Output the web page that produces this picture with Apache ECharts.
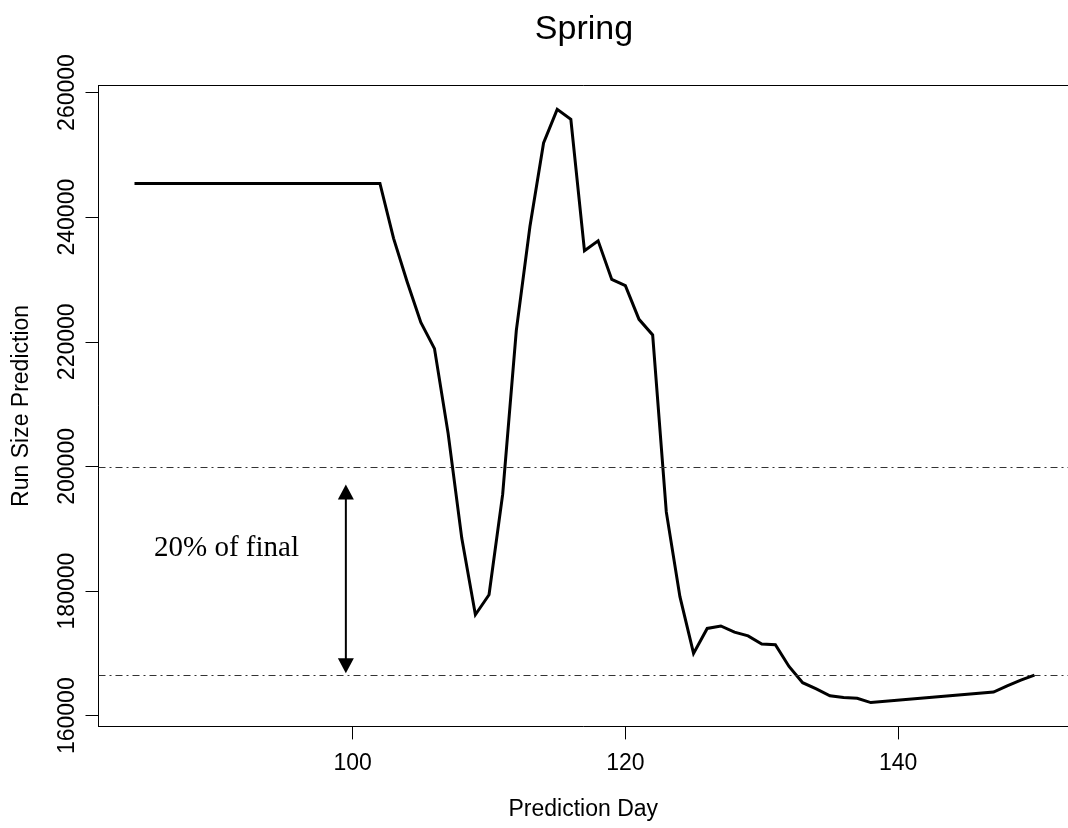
<!DOCTYPE html>
<html>
<head>
<meta charset="utf-8">
<script src="https://cdn.jsdelivr.net/npm/echarts@6/dist/echarts.min.js"></script>
<style>
  html, body { margin: 0; padding: 0; background: #ffffff; overflow: hidden; }
  #chart { width: 1068px; height: 828px; }
</style>
</head>
<body>
<div id="chart"></div>
<script>
// Prediction day and the run size predicted on that day
const days = [
  84, 85, 86, 87, 88, 89, 90, 91, 92, 93, 94, 95, 96, 97, 98, 99, 100, 101, 102,
  103, 104, 105, 106, 107, 108, 109, 110, 111, 112, 113, 114, 115, 116, 117, 118,
  119, 120, 121, 122, 123, 124, 125, 126, 127, 128, 129, 130, 131, 132, 133, 134,
  135, 136, 137, 138, 147, 148, 149, 150
];
const runSize = [
  245400, 245400, 245400, 245400, 245400, 245400, 245400, 245400, 245400, 245400,
  245400, 245400, 245400, 245400, 245400, 245400, 245400, 245400, 245400,
  236600, 229600, 223100, 218900, 205300, 188500, 176200, 179400, 195500, 221800,
  238500, 251900, 257300, 255700, 234600, 236200, 230000, 229000, 223600, 221100,
  192700, 179100, 170000, 174000, 174400, 173400, 172800, 171500, 171400, 167900,
  165300, 164300, 163200, 162900, 162800, 162100, 163800, 164800, 165700, 166500
];

// Axis ticks
const xTicks = [100, 120, 140];
const yTicks = [160000, 180000, 200000, 220000, 240000, 260000];

// Band: final prediction and 20% above it
const finalValue = runSize[runSize.length - 1];
const bandTop = finalValue * 1.2;

// Double-headed arrow marking the band: [day, from, to]
const arrowSpan = [[99.5, 166800, 197100]];

const sans = '"Liberation Sans", Arial, sans-serif';
const serif = '"Liberation Serif", "Times New Roman", serif';

const X_MIN = 81.36, X_MAX = 152.46;

const chart = echarts.init(document.getElementById('chart'), null, { renderer: 'canvas' });

chart.setOption({
  animation: false,
  backgroundColor: '#ffffff',
  title: {
    text: 'Spring',
    left: 579,
    top: 8,
    textAlign: 'center',
    textStyle: { fontFamily: sans, fontSize: 34, fontWeight: 'normal', color: '#000' }
  },
  grid: {
    left: 98.5,
    right: 0,
    top: 85.4,
    bottom: 101.6,
    show: false
  },
  xAxis: [
    {
      type: 'value',
      position: 'bottom',
      min: X_MIN,
      max: X_MAX,
      name: 'Prediction Day',
      nameLocation: 'middle',
      nameGap: 72,
      nameTextStyle: { fontFamily: sans, fontSize: 23, color: '#000' },
      axisLine: { show: true, onZero: false, lineStyle: { color: '#000', width: 1 } },
      axisTick: { show: true, inside: false, length: 13, customValues: xTicks, lineStyle: { color: '#000', width: 1 } },
      axisLabel: {
        customValues: xTicks,
        margin: 26,
        fontFamily: sans,
        fontSize: 23,
        color: '#000',
        formatter: v => String(v)
      },
      splitLine: { show: false }
    },
    {
      // top edge of the plot frame
      type: 'value',
      position: 'top',
      min: X_MIN,
      max: X_MAX,
      axisLine: { show: true, onZero: false, lineStyle: { color: '#000', width: 1 } },
      axisTick: { show: false },
      axisLabel: { show: false },
      splitLine: { show: false }
    }
  ],
  yAxis: {
    type: 'value',
    min: 158280,
    max: 261140,
    name: 'Run Size Prediction',
    nameLocation: 'middle',
    nameGap: 65,
    nameRotate: 90,
    nameTextStyle: { fontFamily: sans, fontSize: 23, color: '#000' },
    axisLine: { show: true, onZero: false, lineStyle: { color: '#000', width: 1 } },
    axisTick: { show: true, inside: false, length: 13, customValues: yTicks, lineStyle: { color: '#000', width: 1 } },
    axisLabel: {
      customValues: yTicks,
      rotate: 90,
      margin: 19,
      fontFamily: sans,
      fontSize: 23,
      color: '#000',
      formatter: v => String(v)
    },
    splitLine: { show: false }
  },
  graphic: [
    {
      type: 'text',
      x: 154,
      y: 548,
      silent: true,
      style: {
        text: '20% of final',
        font: '29px ' + serif,
        fill: '#000',
        verticalAlign: 'middle',
        align: 'left'
      }
    }
  ],
  series: [
    {
      type: 'line',
      xAxisIndex: 0,
      data: days.map((d, i) => [d, runSize[i]]),
      showSymbol: false,
      symbol: 'none',
      lineStyle: { color: '#000', width: 3, join: 'miter' },
      silent: true,
      markLine: {
        silent: true,
        symbol: ['none', 'none'],
        label: { show: false },
        lineStyle: { color: '#333', width: 1, type: [7, 4, 2, 4] },
        data: [{ yAxis: finalValue }, { yAxis: bandTop }]
      }
    },
    {
      type: 'custom',
      xAxisIndex: 0,
      silent: true,
      data: arrowSpan,
      renderItem: function (params, api) {
        const x = api.value(0);
        const lo = api.coord([x, api.value(1)]);
        const hi = api.coord([x, api.value(2)]);
        const headLen = 15;
        const headHalf = 8;
        return {
          type: 'group',
          children: [
            {
              type: 'line',
              shape: { x1: lo[0], y1: lo[1] - headLen + 1, x2: hi[0], y2: hi[1] + headLen - 1 },
              style: { stroke: '#000', lineWidth: 2 }
            },
            {
              type: 'polygon',
              shape: { points: [[hi[0], hi[1]], [hi[0] - headHalf, hi[1] + headLen], [hi[0] + headHalf, hi[1] + headLen]] },
              style: { fill: '#000' }
            },
            {
              type: 'polygon',
              shape: { points: [[lo[0], lo[1]], [lo[0] - headHalf, lo[1] - headLen], [lo[0] + headHalf, lo[1] - headLen]] },
              style: { fill: '#000' }
            }
          ]
        };
      }
    }
  ]
});
</script>
</body>
</html>
